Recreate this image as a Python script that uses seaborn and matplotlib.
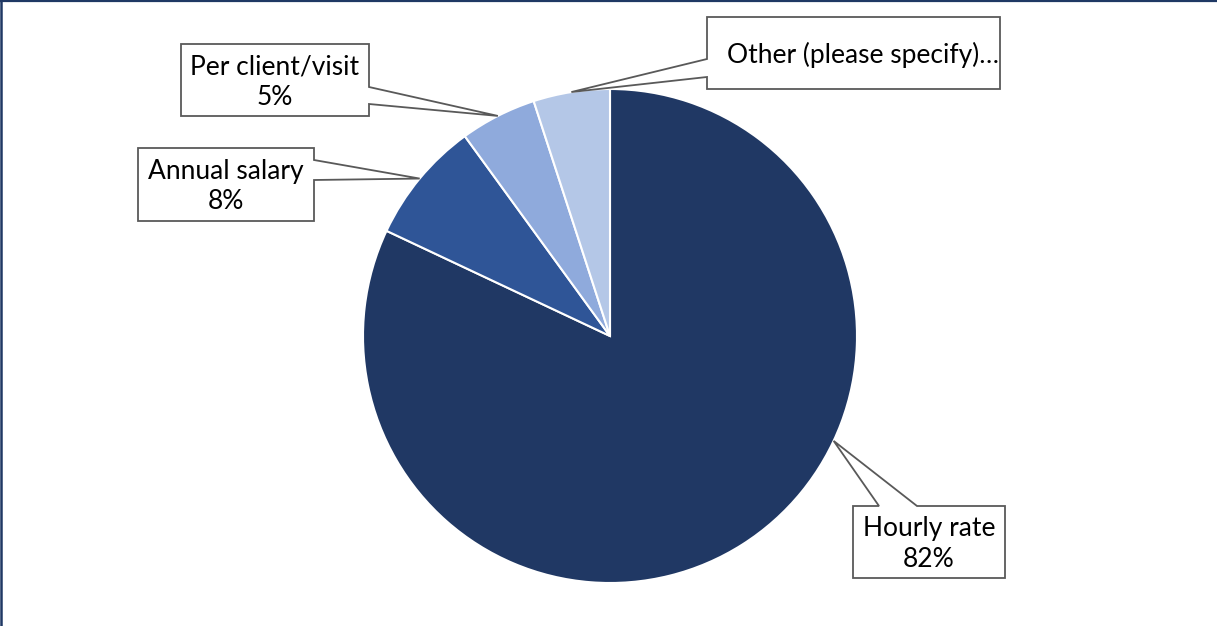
import matplotlib
matplotlib.use("Agg")
import numpy as np
import matplotlib.pyplot as plt
from matplotlib.patches import Polygon
from matplotlib.lines import Line2D
import seaborn as sns

# Pay basis shares (percent), listed clockwise from 12 o'clock
categories = ["Hourly rate", "Annual salary", "Per client/visit", "Other (please specify)"]
shares = [82, 8, 5, 5]
colors = ["#203864", "#2F5597", "#8FAADC", "#B4C7E7"]

W, H = 1217, 626
sns.set_theme(style="white")
plt.rcParams["font.family"] = ["Lato", "DejaVu Sans"]

fig = plt.figure(figsize=(W / 100, H / 100), dpi=100)
fig.patch.set_facecolor("white")
ax = fig.add_axes([0, 0, 1, 1])

# Pie geometry in pixel units (origin bottom-left)
cx, cy, r = 610, H - 336, 247
wedges, _ = ax.pie(
    shares, colors=colors, startangle=90, counterclock=False,
    center=(cx, cy), radius=r,
    wedgeprops=dict(edgecolor="white", linewidth=1.5),
)
ax.set_xlim(0, W)
ax.set_ylim(0, H)
ax.set_aspect("auto")
ax.axis("off")

# Callout layout: box (x0, top, x1, bottom) in pixels from top-left,
# the side the pointer leaves from, where it leaves, and where on the wedge it points
callouts = [
    dict(box=(853, 506, 1005, 578), side="top", gap=(879, 917), frac=0.61),
    dict(box=(138, 148, 314, 221), side="right", gap=(160, 180), frac=0.5),
    dict(box=(181, 44, 369, 116), side="right", gap=(87, 104), frac=0.5),
    dict(box=(707, 17, 1000, 89), side="left", gap=(59, 77), frac=0.5),
]

FS = 19


def anchor_point(wedge, frac):
    ang = np.deg2rad(wedge.theta1 + frac * (wedge.theta2 - wedge.theta1))
    x, y = wedge.center
    return x + wedge.r * np.cos(ang), H - (y + wedge.r * np.sin(ang))


def callout_vertices(box, side, gap, tip):
    x0, y0, x1, y1 = box
    g0, g1 = gap
    if side == "top":
        pts = [(x0, y0), (g0, y0), tip, (g1, y0), (x1, y0), (x1, y1), (x0, y1)]
    elif side == "right":
        pts = [(x0, y0), (x1, y0), (x1, g0), tip, (x1, g1), (x1, y1), (x0, y1)]
    else:  # left
        pts = [(x0, y0), (x1, y0), (x1, y1), (x0, y1), (x0, g1), tip, (x0, g0)]
    return [(px, H - py) for px, py in pts]


for wedge, name, val, spec in zip(wedges, categories, shares, callouts):
    tip = anchor_point(wedge, spec["frac"])
    poly = Polygon(callout_vertices(spec["box"], spec["side"], spec["gap"], tip),
                   closed=True, facecolor="white", edgecolor="#595959",
                   linewidth=1.3, joinstyle="miter", zorder=5)
    ax.add_patch(poly)
    x0, y0, x1, y1 = spec["box"]
    if name.startswith("Other"):
        t = ax.text(x0 + 20, H - (y0 + y1) / 2 - 2, name + "\u2026", ha="left", va="center",
                    fontsize=FS, color="black", zorder=6)
        t.set_clip_path(poly)
    else:
        ax.text((x0 + x1) / 2, H - (y0 + y1) / 2 - 2, f"{name}\n{val}%", ha="center",
                va="center", fontsize=FS, color="black", linespacing=1.28, zorder=6)

# Frame edges along the top and left of the canvas
fig.add_artist(Line2D([0, 1], [1 - 1 / H, 1 - 1 / H], color="#1F3864", linewidth=1.6,
                      transform=fig.transFigure))
fig.add_artist(Line2D([1 / W, 1 / W], [0, 1], color="#1F3864", linewidth=1.8,
                      transform=fig.transFigure))

fig.savefig("out.png", dpi=100, facecolor="white")
